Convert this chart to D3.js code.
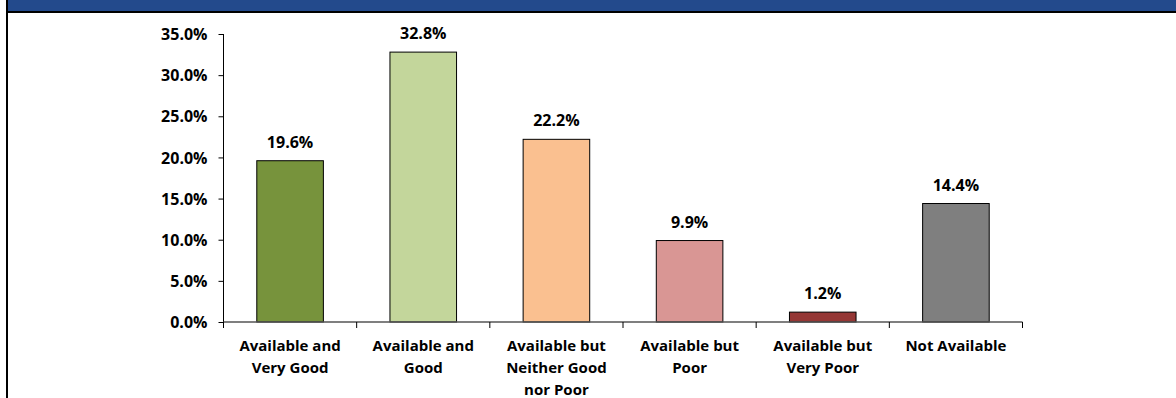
<!DOCTYPE html>
<html>
<head>
<meta charset="utf-8">
<script src="https://cdn.jsdelivr.net/npm/d3@7/dist/d3.min.js"></script>
<style>
  html, body { margin: 0; padding: 0; background: #fff; }
  svg { display: block; }
  text { font-family: "Open Sans", Lato, sans-serif; font-weight: bold; fill: #000; }
</style>
</head>
<body>
<svg id="chart" width="1176" height="398"></svg>
<script>
// Response categories (multi-line labels)
const categories = [
  ["Available and", "Very Good"],
  ["Available and", "Good"],
  ["Available but", "Neither Good", "nor Poor"],
  ["Available but", "Poor"],
  ["Available but", "Very Poor"],
  ["Not Available"]
];
// Share of responses, percent
const values = [19.6, 32.8, 22.2, 9.9, 1.2, 14.4];
const barColors = ["#77933C", "#C3D69B", "#FAC090", "#D99694", "#953735", "#7F7F7F"];
const yTicks = [0, 5, 10, 15, 20, 25, 30, 35];

const svg = d3.select("#chart");
const W = 1176, H = 398;

// Frame: header band and left rule
svg.append("rect").attr("x", 8).attr("y", 0).attr("width", W - 8).attr("height", 11).attr("fill", "#234A8C");
svg.append("rect").attr("x", 6).attr("y", 11).attr("width", W - 6).attr("height", 2).attr("fill", "#000");
svg.append("rect").attr("x", 6).attr("y", 0).attr("width", 2).attr("height", H).attr("fill", "#000");

const x0 = 223.5, x1 = 1022.5, yTop = 34, yBase = 322;
const x = d3.scaleBand().domain(d3.range(categories.length)).range([x0, x1]).paddingInner(0.5).paddingOuter(0.25);
const y = d3.scaleLinear().domain([0, 35]).range([yBase, yTop]);

// Y axis
const yAxis = svg.append("g").attr("transform", `translate(${x0},0)`)
  .call(d3.axisLeft(y).tickValues(yTicks).tickSize(5).tickPadding(11).tickFormat(d => d.toFixed(1) + "%"));
yAxis.select(".domain").attr("stroke", "#000").attr("d", `M0,${yTop}V${yBase}`);
yAxis.selectAll(".tick line").attr("stroke", "#000");
yAxis.selectAll(".tick text").style("font-size", "16px").style("font-family", "'Open Sans', sans-serif").style("font-weight", "bold").attr("dy", "0.35em");

// Bars
svg.append("g").selectAll("rect").data(values).join("rect")
  .attr("x", (d, i) => x(i))
  .attr("y", d => y(d))
  .attr("width", x.bandwidth())
  .attr("height", d => yBase - y(d))
  .attr("fill", (d, i) => barColors[i])
  .attr("stroke", "#000")
  .attr("stroke-width", 1);

// X axis with category boundary ticks
const xg = svg.append("g");
xg.append("line").attr("x1", x0).attr("x2", x1).attr("y1", yBase).attr("y2", yBase).attr("stroke", "#555").attr("stroke-width", 1.5);
const step = x.step();
xg.selectAll("line.tk").data(d3.range(categories.length + 1)).join("line")
  .attr("class", "tk")
  .attr("x1", i => x0 + i * step).attr("x2", i => x0 + i * step)
  .attr("y1", yBase).attr("y2", yBase + 6)
  .attr("stroke", "#000");

// Value labels
svg.append("g").selectAll("text").data(values).join("text")
  .attr("x", (d, i) => x(i) + x.bandwidth() / 2)
  .attr("y", d => y(d) - 13)
  .attr("text-anchor", "middle")
  .style("font-size", "16px")
  .text(d => d.toFixed(1) + "%");

// Category labels
const cl = svg.append("g").selectAll("text").data(categories).join("text")
  .attr("x", (d, i) => x(i) + x.bandwidth() / 2)
  .attr("y", 351)
  .attr("text-anchor", "middle")
  .style("font-size", "15px");
cl.selectAll("tspan").data(d => d).join("tspan")
  .attr("x", function () { return d3.select(this.parentNode).attr("x"); })
  .attr("dy", (d, j) => j === 0 ? 0 : 22)
  .text(d => d);
</script>
</body>
</html>
